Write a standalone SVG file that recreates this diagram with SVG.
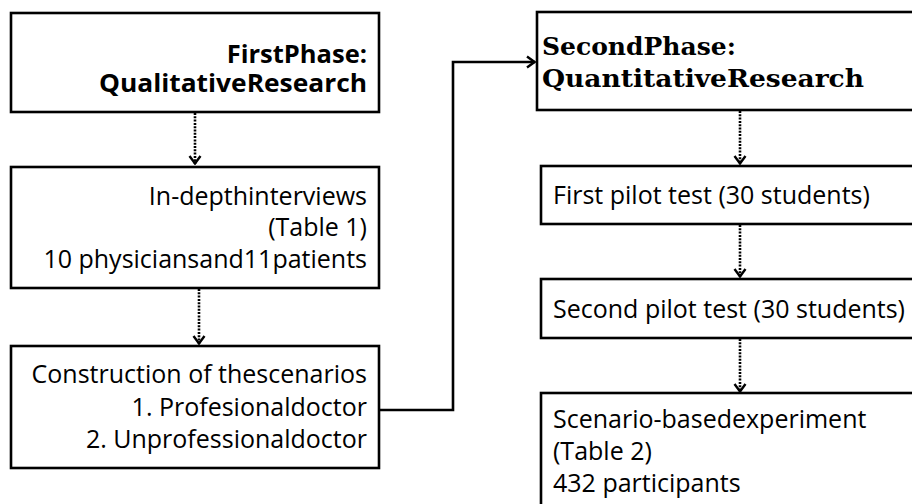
<svg xmlns="http://www.w3.org/2000/svg" width="912" height="504" viewBox="0 0 912 504">
<style>
.box{fill:#fff;stroke:#000;stroke-width:2.6}
.t{font-family:"Open Sans","Liberation Sans",sans-serif;font-size:25px;fill:#000}
.tb{font-family:"Open Sans","Liberation Sans",sans-serif;font-size:25.5px;font-weight:bold;fill:#000}
.ts{font-family:"DejaVu Serif","Liberation Serif",serif;font-size:25px;font-weight:bold;fill:#000}
.r{text-anchor:end}
.dot{fill:none;stroke:#000;stroke-width:2.6;stroke-dasharray:2 1.3}
.sol{fill:none;stroke:#000;stroke-width:2.6}
</style>
<defs>
<marker id="ah" viewBox="0 0 10 14" refX="9" refY="7" markerWidth="10" markerHeight="14" markerUnits="userSpaceOnUse" orient="auto">
<path d="M1,1.5 L8.5,7 L1,12.5" fill="none" stroke="#000" stroke-width="2.4"/>
</marker>
</defs>
<g id="connectors">
<path class="dot" d="M195,113 V164" marker-end="url(#ah)"/>
<path class="dot" d="M199,289 V344" marker-end="url(#ah)"/>
<path class="sol" d="M380,410 H453 V62 H535" marker-end="url(#ah)"/>
<path class="dot" d="M740,111 V164" marker-end="url(#ah)"/>
<path class="dot" d="M740,225 V277" marker-end="url(#ah)"/>
<path class="dot" d="M740,339 V392" marker-end="url(#ah)"/>
</g>
<g id="n1">
<rect class="box" x="11" y="13" width="368" height="99"/>
<text class="tb r" x="367" y="63">FirstPhase:</text>
<text class="tb r" x="367" y="92" textLength="268" lengthAdjust="spacingAndGlyphs">QualitativeResearch</text>
</g>
<g id="n2">
<rect class="box" x="11" y="167" width="368" height="121"/>
<text class="t r" x="367" y="205">In-depthinterviews</text>
<text class="t r" x="367" y="236">(Table 1)</text>
<text class="t r" x="367" y="268">10 physiciansand11patients</text>
</g>
<g id="n3">
<rect class="box" x="11" y="346" width="368" height="122"/>
<text class="t r" x="367" y="383">Construction of thescenarios</text>
<text class="t r" x="367" y="416">1. Profesionaldoctor</text>
<text class="t r" x="367" y="448">2. Unprofessionaldoctor</text>
</g>
<g id="n4">
<rect class="box" x="537" y="12" width="390" height="98"/>
<text class="ts" x="542" y="55">SecondPhase:</text>
<text class="ts" x="542" y="87" textLength="322" lengthAdjust="spacingAndGlyphs">QuantitativeResearch</text>
</g>
<g id="n5">
<rect class="box" x="541" y="166" width="390" height="58"/>
<text class="t" x="553" y="204">First pilot test (30 students)</text>
</g>
<g id="n6">
<rect class="box" x="541" y="279" width="390" height="59"/>
<text class="t" x="553" y="318">Second pilot test (30 students)</text>
</g>
<g id="n7">
<rect class="box" x="541" y="393" width="390" height="130"/>
<text class="t" x="553" y="428">Scenario-basedexperiment</text>
<text class="t" x="553" y="460">(Table 2)</text>
<text class="t" x="553" y="492">432 participants</text>
</g>
</svg>
